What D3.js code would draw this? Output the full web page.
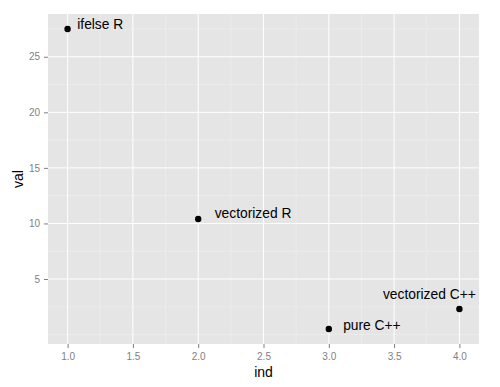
<!DOCTYPE html>
<html>
<head>
<meta charset="utf-8">
<script src="https://cdn.jsdelivr.net/npm/d3@7"></script>
<style>
  body { margin: 0; background: #fff; }
  text { font-family: "Liberation Sans", Arial, sans-serif; }
  .tick text { fill: #7f7f7f; font-size: 10px; }
  .tick line { stroke: #7f7f7f; }
  .domain { display: none; }
</style>
</head>
<body>
<div id="wrapper"></div>
<script>
// data
const names = ['ifelse R', 'vectorized R', 'pure C++', 'vectorized C++'];
const ind = [1, 2, 3, 4];
const val = [27.5, 10.4, 0.5, 2.3];
// label anchor (centre of text, baseline) in data units
const labelX = [1.25, 2.42, 3.33, 3.77];
const labelY = [27.5, 10.5, 0.45, 3.2];

const xTicks = [1.0, 1.5, 2.0, 2.5, 3.0, 3.5, 4.0];
const yTicks = [5, 10, 15, 20, 25];
const xMinor = [1.25, 1.75, 2.25, 2.75, 3.25, 3.75];
const yMinor = [0, 2.5, 7.5, 12.5, 17.5, 22.5, 27.5];

const dataset = names.map((n, i) => ({ name: n, ind: ind[i], val: val[i], lx: labelX[i], ly: labelY[i] }));

let dimensions = {
  width: 500,
  height: 387,
  margin: { top: 14, right: 21, bottom: 43, left: 48 },
};
dimensions.boundedWidth = dimensions.width - dimensions.margin.left - dimensions.margin.right;
dimensions.boundedHeight = dimensions.height - dimensions.margin.top - dimensions.margin.bottom;

const svg = d3.select('#wrapper').append('svg')
  .attr('width', dimensions.width)
  .attr('height', dimensions.height);

const bounds = svg.append('g')
  .attr('transform', `translate(${dimensions.margin.left},${dimensions.margin.top})`);

// scales, ggplot style 5% expansion
const xExt = d3.extent(ind), yExt = d3.extent(val);
const xPad = (xExt[1] - xExt[0]) * 0.05, yPad = (yExt[1] - yExt[0]) * 0.05;
const xScale = d3.scaleLinear()
  .domain([xExt[0] - xPad, xExt[1] + xPad])
  .range([0, dimensions.boundedWidth]);
const yScale = d3.scaleLinear()
  .domain([yExt[0] - yPad, yExt[1] + yPad])
  .range([dimensions.boundedHeight, 0]);

// panel
bounds.append('rect')
  .attr('width', dimensions.boundedWidth)
  .attr('height', dimensions.boundedHeight)
  .attr('fill', '#e5e5e5');

// grid
bounds.selectAll('.xminor').data(xMinor).enter().append('line')
  .attr('x1', d => xScale(d)).attr('x2', d => xScale(d))
  .attr('y1', 0).attr('y2', dimensions.boundedHeight)
  .attr('stroke', '#f2f2f2').attr('stroke-width', 0.5);
bounds.selectAll('.yminor').data(yMinor).enter().append('line')
  .attr('y1', d => yScale(d)).attr('y2', d => yScale(d))
  .attr('x1', 0).attr('x2', dimensions.boundedWidth)
  .attr('stroke', '#f2f2f2').attr('stroke-width', 0.5);
bounds.selectAll('.xmajor').data(xTicks).enter().append('line')
  .attr('x1', d => xScale(d)).attr('x2', d => xScale(d))
  .attr('y1', 0).attr('y2', dimensions.boundedHeight)
  .attr('stroke', '#fff').attr('stroke-width', 1);
bounds.selectAll('.ymajor').data(yTicks).enter().append('line')
  .attr('y1', d => yScale(d)).attr('y2', d => yScale(d))
  .attr('x1', 0).attr('x2', dimensions.boundedWidth)
  .attr('stroke', '#fff').attr('stroke-width', 1);

// points
bounds.selectAll('circle').data(dataset).enter().append('circle')
  .attr('cx', d => xScale(d.ind))
  .attr('cy', d => yScale(d.val))
  .attr('r', 3.2)
  .attr('fill', '#000');

// labels
bounds.selectAll('.labels').data(dataset).enter().append('text')
  .attr('class', 'labels')
  .attr('x', d => xScale(d.lx))
  .attr('y', d => yScale(d.ly))
  .attr('text-anchor', 'middle')
  .style('font-size', '13.8px')
  .text(d => d.name);

// axes
const xAxis = bounds.append('g')
  .attr('transform', `translate(0,${dimensions.boundedHeight})`)
  .call(d3.axisBottom(xScale).tickValues(xTicks).tickFormat(d3.format('.1f')).tickSize(4).tickPadding(5));
const yAxis = bounds.append('g')
  .call(d3.axisLeft(yScale).tickValues(yTicks).tickSize(4).tickPadding(4));

svg.append('text')
  .attr('x', dimensions.margin.left + dimensions.boundedWidth / 2)
  .attr('y', 377)
  .attr('text-anchor', 'middle')
  .style('font-size', '14px')
  .text('ind');
svg.append('text')
  .attr('transform', `translate(23,${dimensions.margin.top + dimensions.boundedHeight / 2}) rotate(-90)`)
  .attr('text-anchor', 'middle')
  .style('font-size', '14px')
  .text('val');
</script>
</body>
</html>
